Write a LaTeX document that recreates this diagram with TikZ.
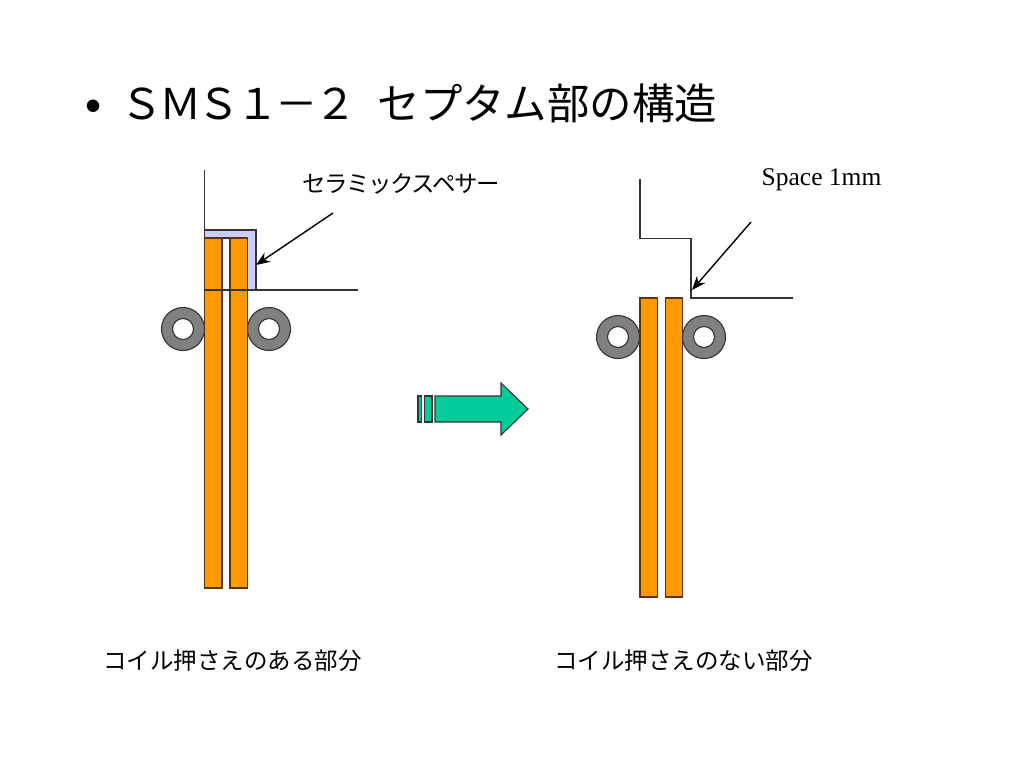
\documentclass[tikz,border=0pt]{standalone}
\usepackage{fontspec}
\setmainfont{Liberation Serif}
\newfontfamily\jp{Noto Sans CJK JP}
\newfontfamily\sans{Liberation Sans}
\usetikzlibrary{arrows.meta}
\definecolor{coilc}{HTML}{FF9900}
\definecolor{ringc}{HTML}{808080}
\definecolor{spacerc}{HTML}{CCCCFF}
\definecolor{arrowc}{HTML}{00CC99}
\definecolor{edgec}{HTML}{333333}
\tikzset{
  coil/.style={fill=coilc,draw=black!65!coilc,line width=1.1pt},
  wall/.style={draw=edgec,line width=1.1pt},
  pointer/.style={draw=black,line width=1.4pt,-{Stealth[length=14pt,width=11pt]}},
  blockc/.style={fill=arrowc,draw=edgec,line width=1.1pt},
  ring/.style={circle,draw=edgec,line width=1.1pt,fill=ringc,minimum size=43pt,inner sep=0pt},
  bore/.style={circle,draw=edgec,line width=1.1pt,fill=white,minimum size=21pt,inner sep=0pt},
  jplabel/.style={font=\jp\fontsize{23.5}{23.5}\selectfont,inner sep=0pt,anchor=west},
}
\begin{document}
\begin{tikzpicture}[x=1pt,y=-1pt]
\useasboundingbox[fill=white] (0,0) rectangle (1024,768);
% title
\node[font=\sans\fontsize{46}{46}\selectfont,inner sep=0pt,anchor=west] (bullet) at (85,111) {•};
\node[font=\jp\fontsize{42.4}{42.4}\selectfont,inner sep=0pt,anchor=west] (title) at (120,103) {{\addfontfeature{LetterSpace=-8.5}ＳＭＳ１－２}\hspace{0.5em}セプタム部の構造};
% left assembly
\draw[wall] (204.5,170) -- (204.5,238);
\draw[fill=spacerc,draw=edgec,line width=1.1pt] (204.5,230) -- (256,230) -- (256,290) -- (247.5,290) -- (247.5,238) -- (204.5,238) -- cycle;
\node[coil,minimum width=17.5pt,minimum height=350pt,inner sep=0pt] (la) at (213.2,413) {};
\node[coil,minimum width=17.5pt,minimum height=350pt,inner sep=0pt] (lb) at (238.7,413) {};
\coordinate (lwall) at (204.5,290);
\coordinate (lwallend) at (358,290);
\draw[wall] (lwall) -- (lwallend);
\node[ring] (lr1) at (183,329) {};
\node[bore] (lb1) at (183,329) {};
\node[ring] (lr2) at (269,329) {};
\node[bore] (lb2) at (269,329) {};
\node[jplabel,font=\jp\addfontfeature{LetterSpace=-6}\fontsize{23.5}{23.5}\selectfont] (cer) at (302,184) {セラミックスペサー};
\coordinate (p1s) at (333,213);
\coordinate (p1e) at (256,265);
\draw[pointer] (p1s) -- (p1e);
% right assembly
\coordinate (w0) at (640,179);
\coordinate (w1) at (640,238.5);
\coordinate (w2) at (691,238.5);
\coordinate (w3) at (691,298);
\coordinate (w4) at (793,298);
\draw[wall] (w0) -- (w1) -- (w2) -- (w3) -- (w4);
\node[coil,minimum width=17.5pt,minimum height=299pt,inner sep=0pt] (ra) at (648.7,447.5) {};
\node[coil,minimum width=17.5pt,minimum height=299pt,inner sep=0pt] (rb) at (674,447.5) {};
\node[ring] (rr1) at (618,337) {};
\node[bore] (rb1) at (618,337) {};
\node[ring] (rr2) at (704,337) {};
\node[bore] (rb2) at (704,337) {};
\node[font=\fontsize{25.5}{25.5}\selectfont,inner sep=0pt,anchor=west] (space) at (761.5,179.5) {Space 1mm};
\coordinate (p2s) at (751,222);
\coordinate (p2e) at (692,290);
\draw[pointer] (p2s) -- (p2e);
% block arrow
\draw[blockc] (418,396) rectangle (421.5,422);
\draw[blockc] (424.5,396) rectangle (432,422);
\draw[blockc] (435,396) -- (501,396) -- (501,383) -- (528,409) -- (501,435) -- (501,422) -- (435,422) -- cycle;
% captions
\node[jplabel] (capl) at (103,661) {コイル押さえのある部分};
\node[jplabel] (capr) at (554,661) {コイル押さえのない部分};
\end{tikzpicture}
\end{document}
